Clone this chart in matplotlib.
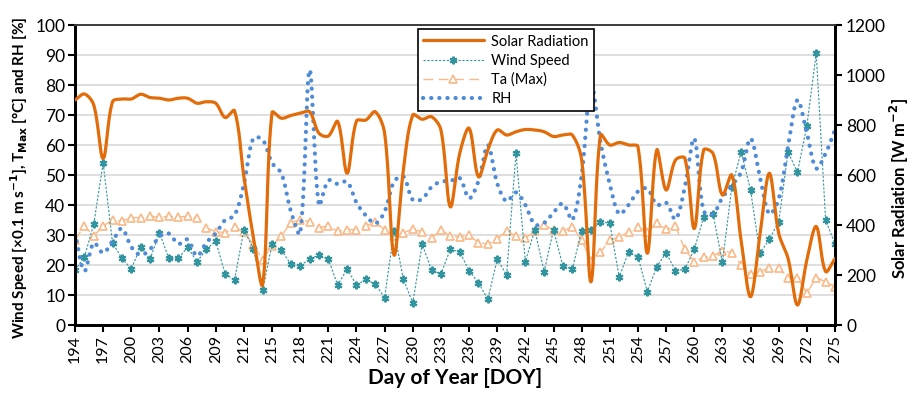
import numpy as np
import matplotlib
matplotlib.use("Agg")
import matplotlib.pyplot as plt
from matplotlib.lines import Line2D

plt.rcParams['font.family'] = ['Lato', 'DejaVu Sans']

# ---------------- data ----------------
days = list(range(194, 276))

solar = [
    900, 924, 880, 666, 893, 904, 904, 923, 910, 907,   # 194-203
    900, 907, 907, 887, 893, 887, 830, 857, 593, 353,   # 204-213
    162, 850, 827, 838, 847, 853, 767, 756, 814, 607,   # 214-223
    816, 820, 853, 767, 280, 620, 840, 823, 833, 780,   # 224-233
    473, 686, 787, 593, 700, 780, 760, 773, 782, 780,   # 234-243
    773, 754, 760, 760, 660, 173, 760, 720, 730, 720,   # 244-253
    713, 287, 700, 540, 660, 667, 386, 700, 686, 520,   # 254-263
    600, 336, 113, 360, 607, 367, 266, 80, 260, 394,    # 264-273
    214, 266]

wind = [
    18.3, 22.6, 33.7, 54.0, 27.4, 22.2, 18.7, 26.1, 21.9, 30.8,
    22.2, 22.2, 25.9, 21.1, 25.2, 28.0, 17.0, 15.0, 31.7, 25.5,
    11.7, 26.9, 25.0, 20.2, 19.8, 21.9, 23.4, 22.0, 13.3, 18.7,
    13.3, 15.2, 13.6, 9.1, 31.4, 15.2, 7.4, 27.0, 18.3, 17.0,
    25.2, 24.4, 18.1, 14.1, 8.6, 21.9, 16.7, 57.4, 21.1, 31.7,
    17.8, 31.7, 19.7, 18.7, 31.3, 31.7, 34.4, 33.9, 15.9, 24.4,
    22.8, 11.1, 19.4, 24.1, 18.1, 18.6, 25.2, 35.9, 37.0, 20.9,
    45.9, 57.8, 44.9, 23.9, 28.6, 34.4, 57.6, 50.9, 66.4, 90.6,
    35.0, 27.0]

ta_max = [
    28.3, 33.0, 29.7, 33.0, 35.0, 34.7, 35.8, 35.8, 36.3, 35.9,
    36.3, 35.9, 36.3, 35.6, 32.4, 31.1, 30.8, 32.6, 31.1, 26.7,
    21.8, 26.5, 29.7, 34.1, 35.1, 34.4, 32.5, 33.0, 31.2, 31.8,
    31.8, 33.0, 34.4, 31.7, 29.7, 30.8, 31.9, 31.1, 28.9, 31.7,
    29.7, 29.4, 30.0, 27.4, 27.0, 28.6, 31.4, 29.7, 28.9, 31.4,
    33.3, 31.7, 31.3, 32.8, 28.3, 21.4, 24.2, 28.3, 29.3, 31.0,
    32.6, 31.1, 33.9, 31.9, 33.0, 25.2, 21.1, 22.6, 23.0, 24.8,
    24.1, 20.0, 17.0, 17.8, 19.1, 19.1, 15.8, 15.8, 10.6, 15.8,
    14.4, 12.8]

rh = [
    30.6, 18.0, 27.4, 24.0, 28.0, 32.2, 26.0, 23.3, 25.2, 29.5,
    30.5, 27.0, 28.5, 23.0, 27.5, 30.5, 35.0, 36.5, 47.0, 62.2,
    61.8, 54.0, 50.5, 38.0, 30.5, 85.0, 40.0, 48.2, 47.0, 47.8,
    40.8, 36.5, 33.8, 37.8, 47.8, 49.5, 41.7, 42.0, 46.0, 47.8,
    48.0, 49.0, 42.2, 48.0, 60.0, 47.2, 41.2, 44.2, 40.0, 33.5,
    34.0, 37.5, 40.5, 35.0, 50.0, 80.5, 61.0, 47.0, 37.0, 40.0,
    44.5, 45.5, 40.0, 40.8, 35.2, 46.0, 62.2, 38.0, 37.0, 42.5,
    46.5, 51.0, 62.2, 49.4, 37.0, 42.0, 59.5, 75.0, 64.0, 52.2,
    57.2, 65.0]

x_ticks = list(range(194, 276, 3))
left_ticks = list(range(0, 101, 10))
right_ticks = list(range(0, 1201, 200))


def smooth(x, y, sx, sy, n=30):
    """Excel-like Bezier smoothing, computed in (approximate) screen space.
    sx, sy: pixels per data unit, used only for the control-point weights."""
    P = np.column_stack([np.asarray(x, float) * sx, np.asarray(y, float) * sy])
    m = len(P)
    fwd = np.zeros_like(P)
    bwd = np.zeros_like(P)
    for i in range(m):
        p0 = P[max(i - 1, 0)]
        p2 = P[min(i + 1, m - 1)]
        d0 = np.hypot(*(P[i] - p0))
        d1 = np.hypot(*(p2 - P[i]))
        T = p2 - p0
        tot = d0 + d1 if d0 + d1 > 0 else 1.0
        fwd[i] = P[i] + T * d1 / tot / 3.0
        bwd[i] = P[i] - T * d0 / tot / 3.0
    t = np.linspace(0, 1, n, endpoint=False)[:, None]
    segs = []
    for i in range(m - 1):
        a, b, c, d = P[i], fwd[i], bwd[i + 1], P[i + 1]
        segs.append((1 - t) ** 3 * a + 3 * (1 - t) ** 2 * t * b
                    + 3 * (1 - t) * t ** 2 * c + t ** 3 * d)
    segs.append(P[-1:])
    out = np.vstack(segs)
    return out[:, 0] / sx, out[:, 1] / sy


# ---------------- colours ----------------
c_solar = '#E36C0A'
c_wind = '#31949E'
c_ta = '#FAB988'
c_rh = '#4F8BD6'

W, H = 914, 395
L, R, T, B = 75, 835, 25, 325
fig = plt.figure(figsize=(W / 100, H / 100), dpi=100)
ax = fig.add_axes([L / W, 1 - B / H, (R - L) / W, (B - T) / H])
ax2 = ax.twinx()

px_day = (R - L) / 81.0

# gridlines
ax.set_axisbelow(True)
ax.yaxis.grid(True, color='#D9D9D9', lw=1.2)

wind_style = dict(color=c_wind, lw=0.8, ls=(0, (2, 1.5)),
                  marker=(6, 2, 0), ms=5.5, mew=1.5, mec=c_wind)
ta_style = dict(color=c_ta, lw=1.0, ls=(0, (7, 4)),
                marker='^', ms=6, mfc='white', mec=c_ta, mew=1.2)
rh_style = dict(color=c_rh, lw=3.0, ls=(0, (0.05, 1.9)),
                dash_capstyle='round')
solar_style = dict(color=c_solar, lw=2.3, solid_capstyle='round')

ax.plot(days, wind, zorder=3, **wind_style)
ax.plot(days, ta_max, zorder=2, **ta_style)
rx, ry = smooth(days, rh, px_day, 3.0)
ax.plot(rx, ry, zorder=4, **rh_style)

sx_, sy_ = smooth(days, solar, px_day, 0.25)
ax2.plot(sx_, sy_, zorder=5, **solar_style)

# axes ranges and ticks
ax.set_xlim(194, 275)
ax.set_ylim(0, 100)
ax2.set_ylim(0, 1200)
ax.set_xticks(x_ticks)
ax.set_xticklabels([str(v) for v in x_ticks], rotation=90, fontsize=11.5)
ax.set_yticks(left_ticks)
ax.set_yticklabels([str(v) for v in left_ticks], fontsize=12.5)
ax2.set_yticks(right_ticks)
ax2.set_yticklabels([str(v) for v in right_ticks], fontsize=12.5)

ax.tick_params(axis='x', direction='out', length=5, width=1.5, pad=2)
ax.tick_params(axis='y', direction='out', length=5, width=1.5, pad=2)
ax2.tick_params(axis='y', direction='out', length=5, width=1.5, pad=3)

for a in (ax, ax2):
    a.spines['left'].set_linewidth(2)
    a.spines['bottom'].set_linewidth(2)
    a.spines['right'].set_linewidth(2)
    a.spines['top'].set_linewidth(1.3)
    a.spines['top'].set_color('#404040')

ax.set_xlabel('Day of Year [DOY]', fontsize=15, fontweight='bold', labelpad=4)
fig.text(19 / W, 1 - 178 / H,
         r'Wind Speed [×0.1 m s$^{\mathbf{-1}}$], T$_{\mathbf{Max}}$ [°C] and RH [%]',
         rotation=90, ha='center', va='center', fontsize=11, fontweight='bold')
fig.text(899 / W, 1 - 188 / H, r'Solar Radiation [W m$^{\mathbf{-2}}$]',
         rotation=90, ha='center', va='center', fontsize=12, fontweight='bold')

# legend
handles = [
    Line2D([], [], **solar_style),
    Line2D([], [], **wind_style),
    Line2D([], [], **ta_style),
    Line2D([], [], **rh_style),
]
labels = ['Solar Radiation', 'Wind Speed', 'Ta (Max)', 'RH']
leg = ax2.legend(handles, labels, loc='upper left',
                 bbox_to_anchor=(0.451, 0.985), fontsize=10.5,
                 frameon=True, fancybox=False, edgecolor='black',
                 framealpha=1, handlelength=4.2, borderpad=0.35,
                 labelspacing=0.35, handletextpad=0.5, borderaxespad=0)
leg.get_frame().set_linewidth(1.2)
leg.set_zorder(10)

fig.savefig('out.png', dpi=100)
